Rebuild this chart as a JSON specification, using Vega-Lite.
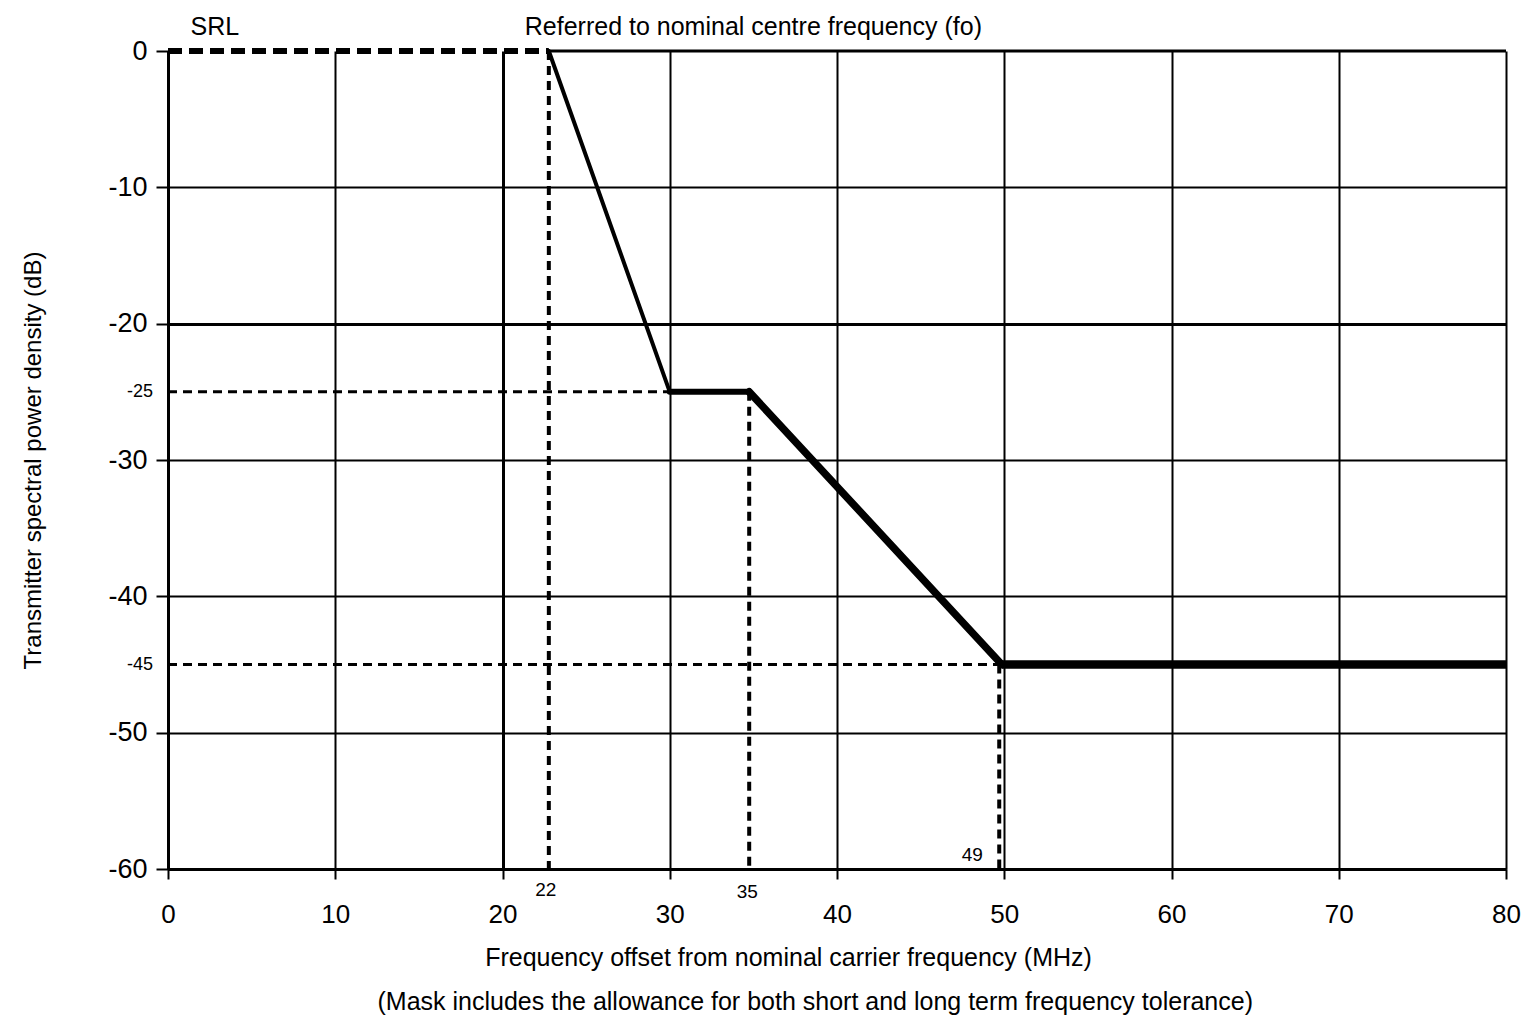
{
  "$schema": "https://vega.github.io/schema/vega-lite/v6.json",
  "width": 1338,
  "height": 818,
  "autosize": {"type": "none"},
  "padding": {"left": 168, "top": 51, "right": 22, "bottom": 152},
  "background": "white",
  "config": {
    "view": {"stroke": null},
    "font": "Liberation Sans",
    "text": {"font": "Liberation Sans", "color": "black"}
  },
  "datasets": {
    "border": [{"x": 22.77, "x2": 80, "y": 0}],
    "refs": [
      {"dir": "h", "x": 0, "y": -25, "x2": 30, "y2": -25},
      {"dir": "h", "x": 0, "y": -45, "x2": 49.85, "y2": -45},
      {"dir": "v", "x": 22.77, "y": 0, "x2": 22.77, "y2": -60},
      {"dir": "v", "x": 34.75, "y": -25, "x2": 34.75, "y2": -60},
      {"dir": "v", "x": 49.7, "y": -45, "x2": 49.7, "y2": -60}
    ],
    "mask": [
      {"seg": "srl", "x": 0, "y": 0, "x2": 22.77, "y2": 0},
      {"seg": "d1", "x": 22.77, "y": 0, "x2": 30, "y2": -25},
      {"seg": "f1", "x": 30, "y": -25, "x2": 34.75, "y2": -25},
      {"seg": "d2", "x": 34.75, "y": -25, "x2": 49.85, "y2": -45},
      {"seg": "f2", "x": 49.85, "y": -45, "x2": 80, "y2": -45}
    ],
    "notes": [
      {"key": "srl", "label": "SRL", "x": 2.8, "y": 0},
      {"key": "ref", "label": "Referred to nominal centre frequency (fo)", "x": 35.0, "y": 0},
      {"key": "m25", "label": "-25", "x": 0, "y": -25},
      {"key": "m45", "label": "-45", "x": 0, "y": -45},
      {"key": "x22", "label": "22", "x": 22.77, "y": -60},
      {"key": "x35", "label": "35", "x": 34.75, "y": -60},
      {"key": "x49", "label": "49", "x": 49.7, "y": -60},
      {"key": "sub", "label": "(Mask includes the allowance for both short and long term frequency tolerance)", "x": 38.7, "y": -60}
    ]
  },
  "encoding": {
    "x": {
      "field": "x",
      "type": "quantitative",
      "scale": {"domain": [0, 80], "nice": false, "zero": false},
      "axis": {
        "values": [0, 10, 20, 30, 40, 50, 60, 70, 80],
        "grid": true,
        "gridColor": "black",
        "gridOpacity": 1,
        "gridWidth": {"condition": {"test": "datum.value === 20", "value": 3}, "value": 2},
        "domain": true,
        "domainColor": "black",
        "domainWidth": 3,
        "ticks": true,
        "tickColor": "black",
        "tickSize": 10,
        "tickWidth": 2,
        "labelFontSize": 26,
        "labelColor": "black",
        "labelFont": "Liberation Sans",
        "labelPadding": 35,
        "labelBaseline": "middle",
        "labelFlush": false,
        "labelOverlap": false,
        "title": "Frequency offset from nominal carrier frequency (MHz)",
        "titleFont": "Liberation Sans",
        "titleFontSize": 25,
        "titleFontWeight": "normal",
        "titleColor": "black",
        "titleX": 620,
        "titleY": 88,
        "titleBaseline": "middle",
        "titleAlign": "center"
      }
    },
    "y": {
      "field": "y",
      "type": "quantitative",
      "scale": {"domain": [-60, 0], "nice": false, "zero": false},
      "axis": {
        "values": [0, -10, -20, -30, -40, -50, -60],
        "labelExpr": "'' + datum.value",
        "grid": true,
        "gridColor": "black",
        "gridOpacity": {"condition": {"test": "datum.value === 0", "value": 0}, "value": 1},
        "gridWidth": {"condition": {"test": "datum.value === -20 || datum.value === -60", "value": 3}, "value": 2},
        "domain": true,
        "domainColor": "black",
        "domainWidth": 3,
        "ticks": true,
        "tickColor": "black",
        "tickSize": 12,
        "tickWidth": 2,
        "labelFontSize": 27,
        "labelColor": "black",
        "labelFont": "Liberation Sans",
        "labelPadding": 9,
        "labelFlush": false,
        "labelOverlap": false,
        "title": "Transmitter spectral power density (dB)",
        "titleFont": "Liberation Sans",
        "titleFontSize": 24,
        "titleFontWeight": "normal",
        "titleColor": "black",
        "titleX": -135,
        "titleY": 409,
        "titleBaseline": "middle",
        "titleAlign": "center",
        "titleAngle": -90
      }
    }
  },
  "layer": [
    {
      "data": {"name": "border"},
      "mark": {"type": "rule", "color": "black", "strokeWidth": 3},
      "encoding": {"x2": {"field": "x2"}}
    },
    {
      "data": {"name": "refs"},
      "transform": [{"filter": "datum.dir === 'h'"}],
      "mark": {"type": "rule", "color": "black", "strokeWidth": 3, "strokeDash": [9, 6]},
      "encoding": {"x2": {"field": "x2"}, "y2": {"field": "y2"}}
    },
    {
      "data": {"name": "refs"},
      "transform": [{"filter": "datum.dir === 'v'"}],
      "mark": {"type": "rule", "color": "black", "strokeWidth": 4, "strokeDash": [9, 6]},
      "encoding": {"x2": {"field": "x2"}, "y2": {"field": "y2"}}
    },
    {
      "data": {"name": "mask"},
      "transform": [{"filter": "datum.seg === 'srl'"}],
      "mark": {"type": "rule", "color": "black", "strokeWidth": 6, "strokeDash": [14, 7]},
      "encoding": {"x2": {"field": "x2"}, "y2": {"field": "y2"}}
    },
    {
      "data": {"name": "mask"},
      "transform": [{"filter": "datum.seg === 'd1'"}],
      "mark": {"type": "rule", "color": "black", "strokeWidth": 4, "strokeCap": "round"},
      "encoding": {"x2": {"field": "x2"}, "y2": {"field": "y2"}}
    },
    {
      "data": {"name": "mask"},
      "transform": [{"filter": "datum.seg === 'f1'"}],
      "mark": {"type": "rule", "color": "black", "strokeWidth": 6, "strokeCap": "round"},
      "encoding": {"x2": {"field": "x2"}, "y2": {"field": "y2"}}
    },
    {
      "data": {"name": "mask"},
      "transform": [{"filter": "datum.seg === 'd2'"}],
      "mark": {"type": "rule", "color": "black", "strokeWidth": 7.5, "strokeCap": "round"},
      "encoding": {"x2": {"field": "x2"}, "y2": {"field": "y2"}}
    },
    {
      "data": {"name": "mask"},
      "transform": [{"filter": "datum.seg === 'f2'"}],
      "mark": {"type": "rule", "color": "black", "strokeWidth": 8.5},
      "encoding": {"x2": {"field": "x2"}, "y2": {"field": "y2"}}
    },
    {
      "data": {"name": "notes"},
      "transform": [{"filter": "datum.key === 'srl' || datum.key === 'ref'"}],
      "mark": {"type": "text", "fontSize": 25, "dy": -24, "align": "center", "baseline": "middle"},
      "encoding": {"text": {"field": "label"}}
    },
    {
      "data": {"name": "notes"},
      "transform": [{"filter": "datum.key === 'm25' || datum.key === 'm45'"}],
      "mark": {"type": "text", "fontSize": 18, "dx": -15, "align": "right", "baseline": "middle"},
      "encoding": {"text": {"field": "label"}}
    },
    {
      "data": {"name": "notes"},
      "transform": [{"filter": "datum.key === 'x22'"}],
      "mark": {"type": "text", "fontSize": 19, "dx": -3, "dy": 21, "align": "center", "baseline": "middle"},
      "encoding": {"text": {"field": "label"}}
    },
    {
      "data": {"name": "notes"},
      "transform": [{"filter": "datum.key === 'x35'"}],
      "mark": {"type": "text", "fontSize": 19, "dx": -2, "dy": 23, "align": "center", "baseline": "middle"},
      "encoding": {"text": {"field": "label"}}
    },
    {
      "data": {"name": "notes"},
      "transform": [{"filter": "datum.key === 'x49'"}],
      "mark": {"type": "text", "fontSize": 19, "dx": -27, "dy": -14, "align": "center", "baseline": "middle"},
      "encoding": {"text": {"field": "label"}}
    },
    {
      "data": {"name": "notes"},
      "transform": [{"filter": "datum.key === 'sub'"}],
      "mark": {"type": "text", "fontSize": 25, "dy": 133, "align": "center", "baseline": "middle"},
      "encoding": {"text": {"field": "label"}}
    }
  ]
}
